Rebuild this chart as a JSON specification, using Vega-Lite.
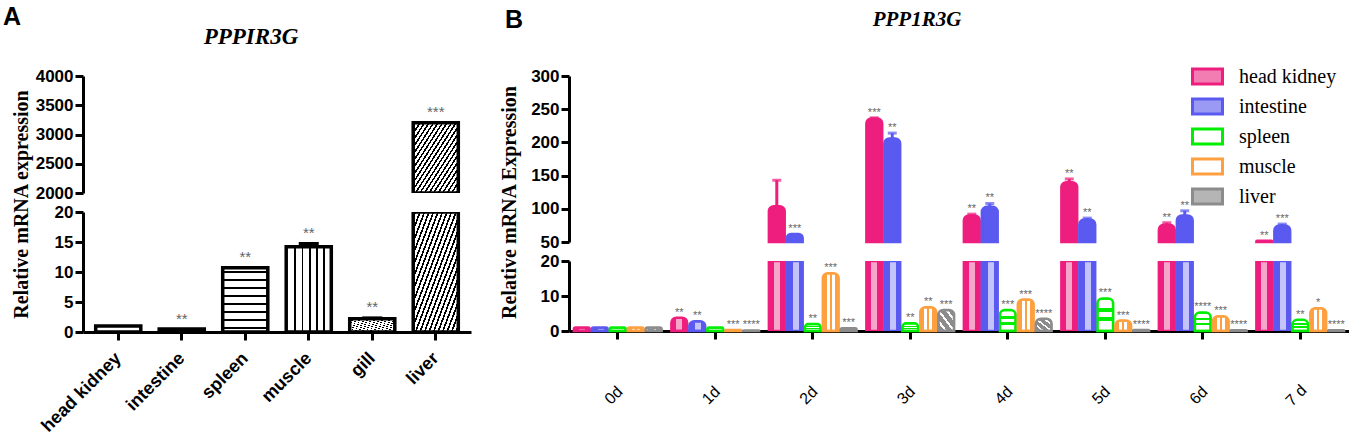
{
"$schema": "https://vega.github.io/schema/vega-lite/v6.json",
"padding": {"left": 3, "top": 5, "right": 0, "bottom": 0},
"background": "white",
"config": {"view": {"stroke": null}, "axis": {"grid": false}},
"datasets": {
"A": [
{"tissue":"head kidney","value":1.0,"hi":1.0,"sig":""},
{"tissue":"intestine","value":0.5,"hi":0.6,"sig":"**"},
{"tissue":"spleen","value":10.7,"hi":11.0,"sig":"**"},
{"tissue":"muscle","value":14.2,"hi":15.0,"sig":"**"},
{"tissue":"gill","value":2.2,"hi":2.6,"sig":"**"},
{"tissue":"liver","value":3200,"hi":3230,"sig":"***"}
],
"B": [
{"day":"0d","tissue":"head kidney","value":1.0,"hi":1.0,"sig":""},
{"day":"0d","tissue":"intestine","value":1.0,"hi":1.0,"sig":""},
{"day":"0d","tissue":"spleen","value":1.0,"hi":1.0,"sig":""},
{"day":"0d","tissue":"muscle","value":1.0,"hi":1.0,"sig":""},
{"day":"0d","tissue":"liver","value":1.0,"hi":1.0,"sig":""},
{"day":"1d","tissue":"head kidney","value":3.8,"hi":3.8,"sig":"**"},
{"day":"1d","tissue":"intestine","value":2.8,"hi":2.8,"sig":"**"},
{"day":"1d","tissue":"spleen","value":1.0,"hi":1.0,"sig":""},
{"day":"1d","tissue":"muscle","value":0.3,"hi":0.3,"sig":"***"},
{"day":"1d","tissue":"liver","value":0.15,"hi":0.15,"sig":"****"},
{"day":"2d","tissue":"head kidney","value":104,"hi":143,"sig":""},
{"day":"2d","tissue":"intestine","value":62,"hi":62,"sig":"***"},
{"day":"2d","tissue":"spleen","value":2.0,"hi":2.0,"sig":"**"},
{"day":"2d","tissue":"muscle","value":16.5,"hi":16.5,"sig":"***"},
{"day":"2d","tissue":"liver","value":0.8,"hi":0.8,"sig":"***"},
{"day":"3d","tissue":"head kidney","value":236,"hi":237,"sig":"***"},
{"day":"3d","tissue":"intestine","value":206,"hi":214,"sig":"**"},
{"day":"3d","tissue":"spleen","value":2.2,"hi":2.2,"sig":"**"},
{"day":"3d","tissue":"muscle","value":6.8,"hi":6.8,"sig":"**"},
{"day":"3d","tissue":"liver","value":6.0,"hi":6.0,"sig":"***"},
{"day":"4d","tissue":"head kidney","value":90,"hi":92,"sig":"**"},
{"day":"4d","tissue":"intestine","value":103,"hi":108,"sig":"**"},
{"day":"4d","tissue":"spleen","value":6.0,"hi":6.0,"sig":"***"},
{"day":"4d","tissue":"muscle","value":9.0,"hi":9.0,"sig":"***"},
{"day":"4d","tissue":"liver","value":3.5,"hi":3.5,"sig":"****"},
{"day":"5d","tissue":"head kidney","value":140,"hi":145,"sig":"**"},
{"day":"5d","tissue":"intestine","value":84,"hi":86,"sig":"**"},
{"day":"5d","tissue":"spleen","value":9.3,"hi":9.3,"sig":"***"},
{"day":"5d","tissue":"muscle","value":3.0,"hi":3.0,"sig":"***"},
{"day":"5d","tissue":"liver","value":0.3,"hi":0.3,"sig":"****"},
{"day":"6d","tissue":"head kidney","value":76,"hi":79,"sig":"**"},
{"day":"6d","tissue":"intestine","value":90,"hi":97,"sig":"**"},
{"day":"6d","tissue":"spleen","value":5.3,"hi":5.3,"sig":"****"},
{"day":"6d","tissue":"muscle","value":4.2,"hi":4.2,"sig":"***"},
{"day":"6d","tissue":"liver","value":0.2,"hi":0.2,"sig":"****"},
{"day":"7 d","tissue":"head kidney","value":52,"hi":52,"sig":"**"},
{"day":"7 d","tissue":"intestine","value":75,"hi":77,"sig":"***"},
{"day":"7 d","tissue":"spleen","value":3.2,"hi":3.2,"sig":"**"},
{"day":"7 d","tissue":"muscle","value":6.5,"hi":6.5,"sig":"*"},
{"day":"7 d","tissue":"liver","value":0.2,"hi":0.2,"sig":"****"}
]
},
"spacing": 28,
"hconcat": [
{
"title": {"text": "A", "font": "Liberation Sans", "fontSize": 25, "fontWeight": "bold", "color": "black", "anchor": "start", "frame": "group", "dx": -80, "offset": -4},
"spacing": 19,
"bounds": "flush",
"vconcat": [
{
"width": 388, "height": 117,
"title": {"text": "PPPIR3G", "font": "Liberation Serif", "fontSize": 23, "fontStyle": "italic", "fontWeight": "bold", "color": "black", "anchor": "middle", "dx": -26, "offset": 18},
"data": {"name": "A"},
"transform": [{"filter": "datum.value >= 2000"}],
"encoding": {
"x": {"field": "tissue", "type": "nominal", "sort": null, "scale": {"domain": ["head kidney","intestine","spleen","muscle","gill","liver"], "paddingInner": 0.29, "paddingOuter": 0.2}, "axis": null},
"y": {"field": "value", "type": "quantitative", "scale": {"domain": [2000, 4000], "clamp": true, "nice": false, "zero": false},
"axis": {"values": [2000,2500,3000,3500,4000], "format": "d", "title": null, "labelFont": "Liberation Sans", "labelFontSize": 17, "labelFontWeight": "bold", "labelColor": "black", "labelPadding": 2, "domainColor": "black", "domainWidth": 3, "tickColor": "black", "tickWidth": 3, "tickSize": 8}}
},
"layer": [
{"mark": {"type": "bar", "stroke": "black", "strokeWidth": 3.5, "clip": true,
"fill": {"gradient":"linear","x1":0,"y1":0,"x2":1,"y2":1,"stops":[{"offset":0,"color":"white"},{"offset":0.015,"color":"white"},{"offset":0.015,"color":"black"},{"offset":0.035,"color":"black"},{"offset":0.035,"color":"white"},{"offset":0.065,"color":"white"},{"offset":0.065,"color":"black"},{"offset":0.085,"color":"black"},{"offset":0.085,"color":"white"},{"offset":0.115,"color":"white"},{"offset":0.115,"color":"black"},{"offset":0.135,"color":"black"},{"offset":0.135,"color":"white"},{"offset":0.165,"color":"white"},{"offset":0.165,"color":"black"},{"offset":0.185,"color":"black"},{"offset":0.185,"color":"white"},{"offset":0.215,"color":"white"},{"offset":0.215,"color":"black"},{"offset":0.235,"color":"black"},{"offset":0.235,"color":"white"},{"offset":0.265,"color":"white"},{"offset":0.265,"color":"black"},{"offset":0.285,"color":"black"},{"offset":0.285,"color":"white"},{"offset":0.315,"color":"white"},{"offset":0.315,"color":"black"},{"offset":0.335,"color":"black"},{"offset":0.335,"color":"white"},{"offset":0.365,"color":"white"},{"offset":0.365,"color":"black"},{"offset":0.385,"color":"black"},{"offset":0.385,"color":"white"},{"offset":0.415,"color":"white"},{"offset":0.415,"color":"black"},{"offset":0.435,"color":"black"},{"offset":0.435,"color":"white"},{"offset":0.465,"color":"white"},{"offset":0.465,"color":"black"},{"offset":0.485,"color":"black"},{"offset":0.485,"color":"white"},{"offset":0.515,"color":"white"},{"offset":0.515,"color":"black"},{"offset":0.535,"color":"black"},{"offset":0.535,"color":"white"},{"offset":0.565,"color":"white"},{"offset":0.565,"color":"black"},{"offset":0.585,"color":"black"},{"offset":0.585,"color":"white"},{"offset":0.615,"color":"white"},{"offset":0.615,"color":"black"},{"offset":0.635,"color":"black"},{"offset":0.635,"color":"white"},{"offset":0.665,"color":"white"},{"offset":0.665,"color":"black"},{"offset":0.685,"color":"black"},{"offset":0.685,"color":"white"},{"offset":0.715,"color":"white"},{"offset":0.715,"color":"black"},{"offset":0.735,"color":"black"},{"offset":0.735,"color":"white"},{"offset":0.765,"color":"white"},{"offset":0.765,"color":"black"},{"offset":0.785,"color":"black"},{"offset":0.785,"color":"white"},{"offset":0.815,"color":"white"},{"offset":0.815,"color":"black"},{"offset":0.835,"color":"black"},{"offset":0.835,"color":"white"},{"offset":0.865,"color":"white"},{"offset":0.865,"color":"black"},{"offset":0.885,"color":"black"},{"offset":0.885,"color":"white"},{"offset":0.915,"color":"white"},{"offset":0.915,"color":"black"},{"offset":0.935,"color":"black"},{"offset":0.935,"color":"white"},{"offset":0.965,"color":"white"},{"offset":0.965,"color":"black"},{"offset":0.985,"color":"black"},{"offset":0.985,"color":"white"},{"offset":1,"color":"white"}]}}},
{"mark": {"type": "rule", "strokeWidth": 20, "strokeCap": "butt", "color": "black"},
"encoding": {"y2": {"field": "hi"}}},
{"transform": [{"filter": "datum.sig != ''"}],
"mark": {"type": "text", "font": "Liberation Sans", "fontSize": 15, "color": "#666666", "baseline": "alphabetic", "dy": -4},
"encoding": {"y": {"field": "hi", "type": "quantitative"}, "text": {"field": "sig"}}}
]
},
{
"width": 388, "height": 120,
"data": {"name": "A"},
"encoding": {
"x": {"field": "tissue", "type": "nominal", "sort": null, "scale": {"domain": ["head kidney","intestine","spleen","muscle","gill","liver"], "paddingInner": 0.29, "paddingOuter": 0.2},
"axis": {"title": null, "labelAngle": -45, "labelAlign": "right", "labelBaseline": "top", "labelPadding": 9, "labelOffset": -6, "labelFont": "Liberation Sans", "labelFontSize": 18, "labelFontWeight": "bold", "labelColor": "black", "domainColor": "black", "domainWidth": 3, "tickColor": "black", "tickWidth": 3, "tickSize": 8}},
"y": {"field": "value", "type": "quantitative", "scale": {"domain": [0, 20], "clamp": true, "nice": false},
"axis": {"values": [0,5,10,15,20], "title": "Relative mRNA expression", "titleFont": "Liberation Serif", "titleFontSize": 20, "titleFontWeight": "bold", "titleColor": "black", "titleX": -62, "titleY": -8, "titleAngle": -90, "titleAlign": "center", "titleBaseline": "middle", "labelFont": "Liberation Sans", "labelFontSize": 17, "labelFontWeight": "bold", "labelColor": "black", "labelPadding": 2, "domainColor": "black", "domainWidth": 3, "tickColor": "black", "tickWidth": 3, "tickSize": 8}}
},
"layer": [
{"mark": {"type": "bar", "stroke": "black", "strokeWidth": 3.5, "clip": true},
"encoding": {"fill": {"condition": [
{"test": "datum.tissue === 'intestine'", "value": "black"},
{"test": "datum.tissue === 'spleen'", "value": {"gradient":"linear","x1":0,"y1":0,"x2":0,"y2":1,"stops":[{"offset":0,"color":"white"},{"offset":0.0475,"color":"white"},{"offset":0.0475,"color":"black"},{"offset":0.0775,"color":"black"},{"offset":0.0775,"color":"white"},{"offset":0.1725,"color":"white"},{"offset":0.1725,"color":"black"},{"offset":0.2025,"color":"black"},{"offset":0.2025,"color":"white"},{"offset":0.2975,"color":"white"},{"offset":0.2975,"color":"black"},{"offset":0.3275,"color":"black"},{"offset":0.3275,"color":"white"},{"offset":0.4225,"color":"white"},{"offset":0.4225,"color":"black"},{"offset":0.4525,"color":"black"},{"offset":0.4525,"color":"white"},{"offset":0.5475,"color":"white"},{"offset":0.5475,"color":"black"},{"offset":0.5775,"color":"black"},{"offset":0.5775,"color":"white"},{"offset":0.6725,"color":"white"},{"offset":0.6725,"color":"black"},{"offset":0.7025,"color":"black"},{"offset":0.7025,"color":"white"},{"offset":0.7975,"color":"white"},{"offset":0.7975,"color":"black"},{"offset":0.8275,"color":"black"},{"offset":0.8275,"color":"white"},{"offset":0.9225,"color":"white"},{"offset":0.9225,"color":"black"},{"offset":0.9525,"color":"black"},{"offset":0.9525,"color":"white"},{"offset":1,"color":"white"}]}},
{"test": "datum.tissue === 'muscle'", "value": {"gradient":"linear","x1":0,"y1":0,"x2":1,"y2":0,"stops":[{"offset":0,"color":"white"},{"offset":0.18,"color":"white"},{"offset":0.18,"color":"black"},{"offset":0.22,"color":"black"},{"offset":0.22,"color":"white"},{"offset":0.34,"color":"white"},{"offset":0.34,"color":"black"},{"offset":0.38,"color":"black"},{"offset":0.38,"color":"white"},{"offset":0.5,"color":"white"},{"offset":0.5,"color":"black"},{"offset":0.54,"color":"black"},{"offset":0.54,"color":"white"},{"offset":0.66,"color":"white"},{"offset":0.66,"color":"black"},{"offset":0.7,"color":"black"},{"offset":0.7,"color":"white"},{"offset":0.82,"color":"white"},{"offset":0.82,"color":"black"},{"offset":0.86,"color":"black"},{"offset":0.86,"color":"white"},{"offset":1,"color":"white"}]}},
{"test": "datum.tissue === 'gill'", "value": {"gradient":"linear","x1":0,"y1":1,"x2":1,"y2":0,"stops":[{"offset":0,"color":"white"},{"offset":0.032,"color":"white"},{"offset":0.032,"color":"black"},{"offset":0.052,"color":"black"},{"offset":0.052,"color":"white"},{"offset":0.115,"color":"white"},{"offset":0.115,"color":"black"},{"offset":0.135,"color":"black"},{"offset":0.135,"color":"white"},{"offset":0.198,"color":"white"},{"offset":0.198,"color":"black"},{"offset":0.218,"color":"black"},{"offset":0.218,"color":"white"},{"offset":0.282,"color":"white"},{"offset":0.282,"color":"black"},{"offset":0.302,"color":"black"},{"offset":0.302,"color":"white"},{"offset":0.365,"color":"white"},{"offset":0.365,"color":"black"},{"offset":0.385,"color":"black"},{"offset":0.385,"color":"white"},{"offset":0.448,"color":"white"},{"offset":0.448,"color":"black"},{"offset":0.468,"color":"black"},{"offset":0.468,"color":"white"},{"offset":0.532,"color":"white"},{"offset":0.532,"color":"black"},{"offset":0.552,"color":"black"},{"offset":0.552,"color":"white"},{"offset":0.615,"color":"white"},{"offset":0.615,"color":"black"},{"offset":0.635,"color":"black"},{"offset":0.635,"color":"white"},{"offset":0.698,"color":"white"},{"offset":0.698,"color":"black"},{"offset":0.718,"color":"black"},{"offset":0.718,"color":"white"},{"offset":0.782,"color":"white"},{"offset":0.782,"color":"black"},{"offset":0.802,"color":"black"},{"offset":0.802,"color":"white"},{"offset":0.865,"color":"white"},{"offset":0.865,"color":"black"},{"offset":0.885,"color":"black"},{"offset":0.885,"color":"white"},{"offset":0.948,"color":"white"},{"offset":0.948,"color":"black"},{"offset":0.968,"color":"black"},{"offset":0.968,"color":"white"},{"offset":1,"color":"white"}]}},
{"test": "datum.tissue === 'liver'", "value": {"gradient":"linear","x1":0,"y1":0,"x2":1,"y2":1,"stops":[{"offset":0,"color":"white"},{"offset":0.015,"color":"white"},{"offset":0.015,"color":"black"},{"offset":0.035,"color":"black"},{"offset":0.035,"color":"white"},{"offset":0.065,"color":"white"},{"offset":0.065,"color":"black"},{"offset":0.085,"color":"black"},{"offset":0.085,"color":"white"},{"offset":0.115,"color":"white"},{"offset":0.115,"color":"black"},{"offset":0.135,"color":"black"},{"offset":0.135,"color":"white"},{"offset":0.165,"color":"white"},{"offset":0.165,"color":"black"},{"offset":0.185,"color":"black"},{"offset":0.185,"color":"white"},{"offset":0.215,"color":"white"},{"offset":0.215,"color":"black"},{"offset":0.235,"color":"black"},{"offset":0.235,"color":"white"},{"offset":0.265,"color":"white"},{"offset":0.265,"color":"black"},{"offset":0.285,"color":"black"},{"offset":0.285,"color":"white"},{"offset":0.315,"color":"white"},{"offset":0.315,"color":"black"},{"offset":0.335,"color":"black"},{"offset":0.335,"color":"white"},{"offset":0.365,"color":"white"},{"offset":0.365,"color":"black"},{"offset":0.385,"color":"black"},{"offset":0.385,"color":"white"},{"offset":0.415,"color":"white"},{"offset":0.415,"color":"black"},{"offset":0.435,"color":"black"},{"offset":0.435,"color":"white"},{"offset":0.465,"color":"white"},{"offset":0.465,"color":"black"},{"offset":0.485,"color":"black"},{"offset":0.485,"color":"white"},{"offset":0.515,"color":"white"},{"offset":0.515,"color":"black"},{"offset":0.535,"color":"black"},{"offset":0.535,"color":"white"},{"offset":0.565,"color":"white"},{"offset":0.565,"color":"black"},{"offset":0.585,"color":"black"},{"offset":0.585,"color":"white"},{"offset":0.615,"color":"white"},{"offset":0.615,"color":"black"},{"offset":0.635,"color":"black"},{"offset":0.635,"color":"white"},{"offset":0.665,"color":"white"},{"offset":0.665,"color":"black"},{"offset":0.685,"color":"black"},{"offset":0.685,"color":"white"},{"offset":0.715,"color":"white"},{"offset":0.715,"color":"black"},{"offset":0.735,"color":"black"},{"offset":0.735,"color":"white"},{"offset":0.765,"color":"white"},{"offset":0.765,"color":"black"},{"offset":0.785,"color":"black"},{"offset":0.785,"color":"white"},{"offset":0.815,"color":"white"},{"offset":0.815,"color":"black"},{"offset":0.835,"color":"black"},{"offset":0.835,"color":"white"},{"offset":0.865,"color":"white"},{"offset":0.865,"color":"black"},{"offset":0.885,"color":"black"},{"offset":0.885,"color":"white"},{"offset":0.915,"color":"white"},{"offset":0.915,"color":"black"},{"offset":0.935,"color":"black"},{"offset":0.935,"color":"white"},{"offset":0.965,"color":"white"},{"offset":0.965,"color":"black"},{"offset":0.985,"color":"black"},{"offset":0.985,"color":"white"},{"offset":1,"color":"white"}]}}
], "value": "white"}}},
{"transform": [{"filter": "datum.hi > datum.value && datum.value < 20"}],
"mark": {"type": "rule", "strokeWidth": 20, "strokeCap": "butt", "color": "black"},
"encoding": {"y2": {"field": "hi"}}},
{"transform": [{"filter": "datum.value < 2000 && datum.sig != ''"}],
"mark": {"type": "text", "font": "Liberation Sans", "fontSize": 15, "color": "#666666", "baseline": "alphabetic", "dy": -4},
"encoding": {"y": {"field": "hi", "type": "quantitative"}, "text": {"field": "sig"}}}
]
}
]
},
{
"title": {"text": "B", "font": "Liberation Sans", "fontSize": 25, "fontWeight": "bold", "color": "black", "anchor": "start", "frame": "group", "dx": -64, "offset": -24},
"spacing": 19,
"bounds": "flush",
"resolve": {"scale": {"fill": "independent", "stroke": "independent", "color": "independent"}, "legend": {"fill": "independent", "stroke": "independent", "color": "independent"}},
"vconcat": [
{
"width": 780, "height": 166,
"title": {"text": "PPP1R3G", "font": "Liberation Serif", "fontSize": 21, "fontStyle": "italic", "fontWeight": "bold", "color": "black", "anchor": "middle", "dx": -42, "offset": 30},
"data": {"name": "B"},
"transform": [{"filter": "datum.value >= 50"}],
"encoding": {
"x": {"field": "day", "type": "nominal", "sort": null, "scale": {"domain": ["0d","1d","2d","3d","4d","5d","6d","7 d"], "paddingInner": 0.1, "paddingOuter": 0.05}, "axis": null},
"xOffset": {"field": "tissue", "type": "nominal", "sort": null, "scale": {"domain": ["head kidney","intestine","spleen","muscle","liver"], "paddingInner": 0.12, "paddingOuter": 0}},
"y": {"field": "value", "type": "quantitative", "scale": {"domain": [50, 300], "clamp": true, "nice": false, "zero": false},
"axis": {"values": [50,100,150,200,250,300], "title": null, "labelFont": "Liberation Sans", "labelFontSize": 17, "labelFontWeight": "bold", "labelColor": "black", "labelPadding": 2, "domainColor": "black", "domainWidth": 3, "tickColor": "black", "tickWidth": 3, "tickSize": 8}}
},
"layer": [
{"mark": {"type": "bar", "strokeWidth": 2.5, "cornerRadiusTopLeft": 5, "cornerRadiusTopRight": 5},
"encoding": {
"fill": {"condition": {"test": "datum.tissue === 'head kidney'", "value": "#EE1E7E"}, "value": "#5A5AF0"},
"stroke": {"condition": {"test": "datum.tissue === 'head kidney'", "value": "#EE1E7E"}, "value": "#5A5AF0"}
}},
{"mark": {"type": "bar", "size": 6, "yOffset": 4, "clip": true, "cornerRadius": 1},
"encoding": {
"fill": {"condition": {"test": "datum.tissue === 'head kidney'", "value": "#F7A6CB"}, "value": "#C4C4FA"}
}},
{"transform": [{"filter": "false"}],
"mark": {"type": "bar", "strokeWidth": 3},
"encoding": {
"fill": {"field": "tissue", "type": "nominal", "scale": {"domain": ["head kidney","intestine","spleen","muscle","liver"], "range": ["#F27DB3","#9A9AF5","#FFFFFF","#FFFFFF","#B5B5B5"]}, "legend": {"title": null, "orient": "none", "legendX": 622, "legendY": -16, "symbolType": "M-1,-0.5H1V0.5H-1Z", "symbolSize": 900, "symbolStrokeWidth": 3, "labelFont": "Liberation Serif", "labelFontSize": 20, "labelColor": "black", "labelOffset": 15, "rowPadding": 0, "padding": 0, "labelLimit": 300}},
"stroke": {"field": "tissue", "type": "nominal", "scale": {"domain": ["head kidney","intestine","spleen","muscle","liver"], "range": ["#EE1E7E","#5A5AF0","#00EE00","#FFA040","#8C8C8C"]}, "legend": {"title": null, "orient": "none", "legendX": 622, "legendY": -16, "symbolType": "M-1,-0.5H1V0.5H-1Z", "symbolSize": 900, "symbolStrokeWidth": 3, "labelFont": "Liberation Serif", "labelFontSize": 20, "labelColor": "black", "labelOffset": 15, "rowPadding": 0, "padding": 0, "labelLimit": 300}}
}},
{"transform": [{"filter": "datum.hi > datum.value"}],
"mark": {"type": "rule", "strokeWidth": 3},
"encoding": {"y2": {"field": "hi"}, "color": {"field": "tissue", "type": "nominal", "scale": {"domain": ["head kidney","intestine","spleen","muscle","liver"], "range": ["#EE1E7E","#5A5AF0","#00EE00","#FFA040","#8C8C8C"]}, "legend": null}}},
{"transform": [{"filter": "datum.hi > datum.value"}],
"mark": {"type": "tick", "orient": "horizontal", "size": 9, "thickness": 3},
"encoding": {"y": {"field": "hi", "type": "quantitative"}, "color": {"field": "tissue", "type": "nominal", "scale": {"domain": ["head kidney","intestine","spleen","muscle","liver"], "range": ["#EE1E7E","#5A5AF0","#00EE00","#FFA040","#8C8C8C"]}, "legend": null}}},
{"transform": [{"filter": "datum.sig != ''"}],
"mark": {"type": "text", "font": "Liberation Sans", "fontSize": 11, "color": "#666666", "baseline": "alphabetic", "dy": -2},
"encoding": {"y": {"field": "hi", "type": "quantitative"}, "text": {"field": "sig"}}}
]
},
{
"width": 780, "height": 70,
"data": {"name": "B"},
"encoding": {
"x": {"field": "day", "type": "nominal", "sort": null, "scale": {"domain": ["0d","1d","2d","3d","4d","5d","6d","7 d"], "paddingInner": 0.1, "paddingOuter": 0.05},
"axis": {"title": null, "labelAngle": -45, "labelAlign": "center", "labelBaseline": "middle", "labelPadding": 56, "labelOffset": -4, "labelFont": "Liberation Sans", "labelFontSize": 16, "labelColor": "black", "domainColor": "black", "domainWidth": 3, "tickColor": "black", "tickWidth": 3, "tickSize": 8}},
"xOffset": {"field": "tissue", "type": "nominal", "sort": null, "scale": {"domain": ["head kidney","intestine","spleen","muscle","liver"], "paddingInner": 0.12, "paddingOuter": 0}},
"y": {"field": "value", "type": "quantitative", "scale": {"domain": [0, 20], "clamp": true, "nice": false},
"axis": {"values": [0,10,20], "title": "Relative mRNA Expression", "titleFont": "Liberation Serif", "titleFontSize": 20, "titleFontWeight": "bold", "titleColor": "black", "titleX": -60, "titleY": -59, "titleAngle": -90, "titleAlign": "center", "titleBaseline": "middle", "labelFont": "Liberation Sans", "labelFontSize": 17, "labelFontWeight": "bold", "labelColor": "black", "labelPadding": 2, "domainColor": "black", "domainWidth": 3, "tickColor": "black", "tickWidth": 3, "tickSize": 8}}
},
"layer": [
{"transform": [{"filter": "datum.value < 20"}],
"mark": {"type": "bar", "strokeWidth": 2.5, "cornerRadiusTopLeft": 5, "cornerRadiusTopRight": 5},
"encoding": {
"stroke": {"field": "tissue", "type": "nominal", "scale": {"domain": ["head kidney","intestine","spleen","muscle","liver"], "range": ["#EE1E7E","#5A5AF0","#00EE00","#FFA040","#8C8C8C"]}, "legend": null},
"fill": {"condition": [
{"test": "datum.tissue === 'head kidney'", "value": {"gradient":"linear","x1":0,"y1":0,"x2":1,"y2":0,"stops":[{"offset":0,"color":"#EE1E7E"},{"offset":0.3,"color":"#EE1E7E"},{"offset":0.3,"color":"#F7A6CB"},{"offset":0.7,"color":"#F7A6CB"},{"offset":0.7,"color":"#EE1E7E"},{"offset":1,"color":"#EE1E7E"}]}},
{"test": "datum.tissue === 'intestine'", "value": {"gradient":"linear","x1":0,"y1":0,"x2":1,"y2":0,"stops":[{"offset":0,"color":"#5A5AF0"},{"offset":0.38,"color":"#5A5AF0"},{"offset":0.38,"color":"#C4C4FA"},{"offset":0.75,"color":"#C4C4FA"},{"offset":0.75,"color":"#5A5AF0"},{"offset":1,"color":"#5A5AF0"}]}},
{"test": "datum.tissue === 'spleen'", "value": {"gradient":"linear","x1":0,"y1":0,"x2":0,"y2":1,"stops":[{"offset":0,"color":"white"},{"offset":0.3,"color":"white"},{"offset":0.3,"color":"#00EE00"},{"offset":0.42,"color":"#00EE00"},{"offset":0.42,"color":"white"},{"offset":0.58,"color":"white"},{"offset":0.58,"color":"#00EE00"},{"offset":0.7,"color":"#00EE00"},{"offset":0.7,"color":"white"},{"offset":1,"color":"white"}]}},
{"test": "datum.tissue === 'muscle'", "value": {"gradient":"linear","x1":0,"y1":0,"x2":1,"y2":0,"stops":[{"offset":0,"color":"#FFA040"},{"offset":0.24,"color":"#FFA040"},{"offset":0.24,"color":"white"},{"offset":0.44,"color":"white"},{"offset":0.44,"color":"#FFA040"},{"offset":0.56,"color":"#FFA040"},{"offset":0.56,"color":"white"},{"offset":0.76,"color":"white"},{"offset":0.76,"color":"#FFA040"},{"offset":1,"color":"#FFA040"}]}},
{"test": "datum.tissue === 'liver'", "value": {"gradient":"linear","x1":0,"y1":1,"x2":1,"y2":0,"stops":[{"offset":0,"color":"#8C8C8C"},{"offset":0.2,"color":"#8C8C8C"},{"offset":0.2,"color":"white"},{"offset":0.28,"color":"white"},{"offset":0.28,"color":"#8C8C8C"},{"offset":0.46,"color":"#8C8C8C"},{"offset":0.46,"color":"white"},{"offset":0.54,"color":"white"},{"offset":0.54,"color":"#8C8C8C"},{"offset":0.72,"color":"#8C8C8C"},{"offset":0.72,"color":"white"},{"offset":0.8,"color":"white"},{"offset":0.8,"color":"#8C8C8C"},{"offset":1,"color":"#8C8C8C"}]}}
], "value": "white"}}},
{"transform": [{"filter": "datum.value >= 20"}],
"mark": {"type": "bar", "strokeWidth": 2.5, "clip": true},
"encoding": {
"stroke": {"field": "tissue", "type": "nominal", "scale": {"domain": ["head kidney","intestine","spleen","muscle","liver"], "range": ["#EE1E7E","#5A5AF0","#00EE00","#FFA040","#8C8C8C"]}, "legend": null},
"fill": {"condition": [
{"test": "datum.tissue === 'head kidney'", "value": {"gradient":"linear","x1":0,"y1":0,"x2":1,"y2":0,"stops":[{"offset":0,"color":"#EE1E7E"},{"offset":0.3,"color":"#EE1E7E"},{"offset":0.3,"color":"#F7A6CB"},{"offset":0.7,"color":"#F7A6CB"},{"offset":0.7,"color":"#EE1E7E"},{"offset":1,"color":"#EE1E7E"}]}},
{"test": "datum.tissue === 'intestine'", "value": {"gradient":"linear","x1":0,"y1":0,"x2":1,"y2":0,"stops":[{"offset":0,"color":"#5A5AF0"},{"offset":0.38,"color":"#5A5AF0"},{"offset":0.38,"color":"#C4C4FA"},{"offset":0.75,"color":"#C4C4FA"},{"offset":0.75,"color":"#5A5AF0"},{"offset":1,"color":"#5A5AF0"}]}}
], "value": "white"}}},
{"transform": [{"filter": "datum.value < 20 && datum.sig != ''"}],
"mark": {"type": "text", "font": "Liberation Sans", "fontSize": 11, "color": "#666666", "baseline": "alphabetic", "dy": -2},
"encoding": {"y": {"field": "hi", "type": "quantitative"}, "text": {"field": "sig"}}}
]
}
]
}
]
}
